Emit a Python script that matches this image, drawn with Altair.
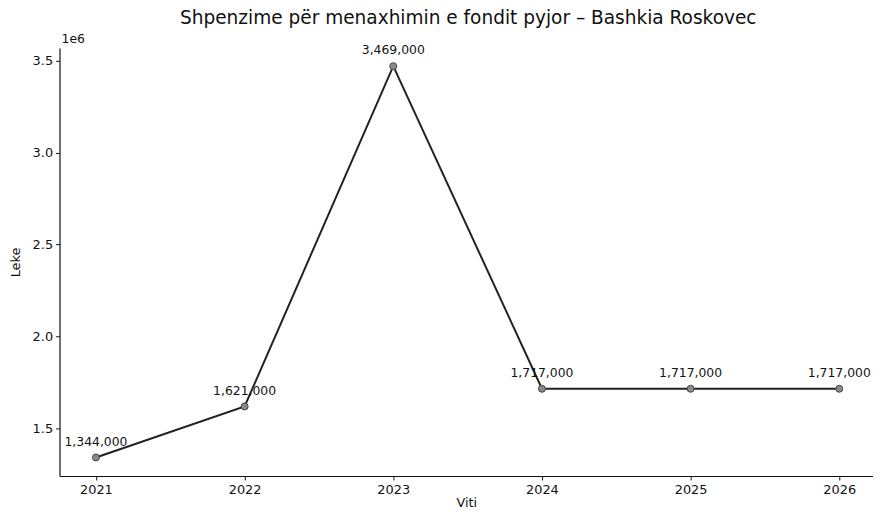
import altair as alt
import pandas as pd

years = [2021, 2022, 2023, 2024, 2025, 2026]
values = [1344000, 1621000, 3469000, 1717000, 1717000, 1717000]
labels = ["1,344,000", "1,621,000", "3,469,000", "1,717,000", "1,717,000", "1,717,000"]
y_ticks = [1500000, 2000000, 2500000, 3000000, 3500000]

df = pd.DataFrame({"Viti": years, "Leke": values, "label": labels})

FONT = "DejaVu Sans"

x = alt.X("Viti:Q",
          scale=alt.Scale(domain=[2020.755, 2026.227], nice=False, zero=False),
          axis=alt.Axis(values=years, format="d", title="Viti", grid=False,
                        tickSize=4, labelPadding=4, titlePadding=0))
y = alt.Y("Leke:Q",
          scale=alt.Scale(domain=[1243300, 3568000], nice=False, zero=False),
          axis=alt.Axis(values=y_ticks,
                        labelExpr="format(datum.value / 1000000, '.1f')",
                        title="Leke", grid=False, tickSize=4, labelPadding=3,
                        titlePadding=10))

base = alt.Chart(df)

line = base.mark_line(color="#222222", strokeWidth=2).encode(x=x, y=y)
points = base.mark_point(filled=True, size=50, color="#8a8a8a",
                         stroke="#444444", strokeWidth=1, opacity=1).encode(x=x, y=y)
text = base.mark_text(dy=-16, fontSize=12.5, font=FONT, color="#111111").encode(
    x=x, y=y, text="label:N")

offset = alt.Chart(pd.DataFrame({"t": ["1e6"]})).mark_text(
    align="left", baseline="bottom", fontSize=12.5, font=FONT, color="#111111"
).encode(x=alt.value(2), y=alt.value(-2), text="t:N")

chart = alt.layer(line, points, text, offset).properties(
    width=821,
    height=432,
    title=alt.TitleParams("Shpenzime për menaxhimin e fondit pyjor – Bashkia Roskovec",
                          font=FONT, fontSize=18.7, fontWeight="normal", color="#111111",
                          anchor="middle", offset=5, dx=2),
    autosize=alt.AutoSizeParams(type="none"),
    padding={"left": 52, "top": 38, "right": 0, "bottom": 31},
).configure_view(stroke=None).configure_axis(
    labelFont=FONT, titleFont=FONT, labelFontSize=13, titleFontSize=13,
    titleFontWeight="normal", labelColor="#111111", titleColor="#111111",
    domainColor="#111111", tickColor="#111111", domainWidth=1.2
)

chart.save("out.html", embed_options={"renderer": "svg", "actions": False})
